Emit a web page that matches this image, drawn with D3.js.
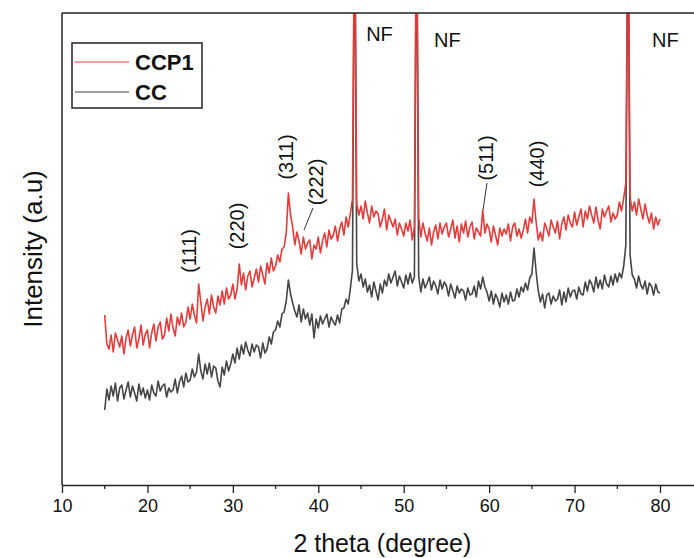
<!DOCTYPE html>
<html>
<head>
<meta charset="utf-8">
<script src="https://cdn.jsdelivr.net/npm/d3@7"></script>
<style>
  html, body { margin: 0; padding: 0; background: #fff; }
  svg { display: block; font-family: 'Liberation Sans', Arial, sans-serif; }
</style>
</head>
<body>
<div id="chart"></div>
<script>
// 2 theta sampling: 15 to 80 degree, every 0.25 degree
const thetaStart = 15;
const thetaStep = 0.25;

// CCP1 intensity (a.u.), four points per degree
const ccp1 = [
  170, 141, 136, 150,  133, 152, 145, 138,  149, 131, 147, 155,  139, 150, 158, 137, // 15-18
  146, 160, 140, 151,  155, 137, 152, 161,  144, 158, 163, 146,  150, 167, 154, 171, // 19-22
  157, 149, 168, 160,  172, 158, 163, 178,  166, 181, 170, 162,  201, 183, 164, 178, // 23-26
  186, 171, 190, 178,  172, 189, 180, 194,  181, 197, 186, 190,  201, 186, 196, 221, // 27-30
  200, 212, 195, 209,  214, 198, 207, 216,  203, 219, 210, 201,  222, 212, 227, 214, // 31-34
  219, 230, 223, 236,  238, 252, 292, 270,  258, 240, 253, 244,  231, 248, 236, 242, // 35-38
  245, 226, 240, 236,  248, 232, 244, 252,  238, 255, 246, 250,  259, 244, 256, 263, // 39-42
  250, 268, 258, 271,  286, 600, 281, 270,  279, 266, 284, 272,  262, 279, 268, 274, // 43-46
  271, 258, 266, 276,  255, 270, 264, 258,  266, 250, 262, 256,  249, 262, 254, 265, // 47-50
  245, 258, 600, 268,  248, 262, 252, 244,  257, 240, 253, 260,  246, 262, 251, 258, // 51-54
  262, 248, 256, 265,  247, 259, 243, 261,  252, 264, 248, 258,  263, 246, 257, 253, // 55-58
  249, 275, 252, 261,  256, 243, 259, 250,  240, 257, 249, 256,  251, 261, 244, 258, // 59-62
  262, 249, 256, 247,  255, 266, 252, 268,  262, 286, 263, 245,  253, 244, 262, 256, // 63-66
  249, 265, 258, 252,  264, 246, 261, 268,  255, 270, 262, 258,  273, 260, 268, 276, // 67-70
  258, 274, 266, 279,  270, 262, 278, 265,  256, 276, 268, 274,  279, 263, 272, 266, // 71-74
  270, 283, 274, 287,  302, 600, 288, 274,  283, 270, 286, 276,  266, 281, 270, 262, // 75-78
  272, 256, 268, 260,  266                                                          // 79-80
];

// CC intensity (a.u.)
const cc = [
   75,  96,  85,  99,   89, 102,  84,  97,  100,  86,  95, 103,   88,  99,  92,  84, // 15-18
  101,  90,  97,  87,   95,  85, 100,  92,   89, 104,  94,  99,  101,  88,  97,  93, // 19-22
   95, 106,  92, 103,  109,  98, 112, 103,  105, 116, 108, 113,  131, 114, 106, 121, // 23-26
  111, 122, 108, 119,  117, 104,  98, 118,  110, 124, 114, 121,  131, 122, 137, 126, // 27-30
  140, 131, 143, 135,  129, 141, 133, 140,  138, 127, 142, 132,  136, 148, 141, 153, // 31-34
  155, 164, 158, 171,  173, 184, 205, 191,  182, 174, 168, 180,  163, 176, 166, 172, // 35-38
  160, 171, 147, 166,  157, 169, 161, 166,  171, 158, 168, 163,  160, 170, 162, 176, // 39-42
  177, 186, 181, 196,  215, 600, 221, 204,  211, 198, 206, 193,  200, 188, 203, 194, // 43-46
  185, 201, 192, 205,  199, 211, 202, 208,  214, 199, 209, 203,  197, 210, 201, 212, // 47-50
  202, 208, 600, 209,  193, 206, 197, 202,  208, 195, 204, 199,  191, 205, 196, 203, // 51-54
  199, 189, 201, 194,  187, 199, 192, 196,  194, 185, 197, 190,  191, 199, 188, 204, // 55-58
  196, 208, 198, 193,  184, 194, 181, 191,  186, 178, 192, 183,  190, 181, 193, 184, // 59-62
  185, 196, 188, 198,  193, 202, 195, 207,  211, 237, 213, 194,  183, 191, 177, 190, // 63-66
  192, 181, 189, 184,  186, 195, 180, 193,  183, 197, 188, 194,  195, 186, 198, 191, // 67-70
  190, 203, 194, 205,  201, 193, 208, 197,  205, 196, 210, 201,  198, 209, 200, 211, // 71-74
  203, 212, 207, 219,  240, 600, 230, 210,  206, 197, 209, 200,  196, 204, 191, 202, // 75-78
  199, 190, 201, 193,  192                                                          // 79-80
];

const seriesNames = ['CCP1', 'CC'];
const seriesColors = ['#e63b3b', '#454545'];

const xTicks = [10, 20, 30, 40, 50, 60, 70, 80];
const xMinorTicks = [15, 25, 35, 45, 55, 65, 75];

// peak labels: text, 2 theta, intensity level
const planeLabels = [
  { text: '(111)', theta: 25.7, level: 234 },
  { text: '(220)', theta: 31.3, level: 259 },
  { text: '(311)', theta: 37.0, level: 328 },
  { text: '(222)', theta: 40.55, level: 303 },
  { text: '(511)', theta: 60.45, level: 327 },
  { text: '(440)', theta: 66.4, level: 321 }
];
const nfLabels = [
  { text: 'NF', theta: 45.6, level: 444 },
  { text: 'NF', theta: 53.55, level: 438 },
  { text: 'NF', theta: 79.06, level: 438 }
];
const leaders = [
  { from: [39.38, 277], to: [38.33, 255] },
  { from: [59.75, 302], to: [59.28, 275] }
];

const width = 694;
const height = 558;
const margin = { left: 62, top: 13, bottom: 485 };

const svg = d3.select('#chart')
  .append('svg')
  .attr('width', width)
  .attr('height', height);

const x = d3.scaleLinear().domain([10, 85]).range([margin.left, margin.left + 75 * 8.543]);
const y = d3.scaleLinear().domain([0, 472]).range([margin.bottom, margin.top]);

svg.append('clipPath').attr('id', 'plot-clip')
  .append('rect')
  .attr('x', x(10)).attr('y', margin.top)
  .attr('width', x(85) - x(10)).attr('height', margin.bottom - margin.top);

const toPoints = vals => vals.map((v, i) => [thetaStart + i * thetaStep, v]);

const line = d3.line()
  .x(d => x(d[0]))
  .y(d => y(d[1]));

const plot = svg.append('g').attr('clip-path', 'url(#plot-clip)');

// dark first so the red pattern sits on top
plot.append('path')
  .datum(toPoints(cc))
  .attr('d', line)
  .attr('fill', 'none')
  .attr('stroke', seriesColors[1])
  .attr('stroke-width', 1.6)
  .attr('stroke-linejoin', 'round');

plot.append('path')
  .datum(toPoints(ccp1))
  .attr('d', line)
  .attr('fill', 'none')
  .attr('stroke', seriesColors[0])
  .attr('stroke-width', 1.6)
  .attr('stroke-linejoin', 'round');

// frame: left and top lines
svg.append('line')
  .attr('x1', x(10)).attr('x2', x(10))
  .attr('y1', margin.top).attr('y2', margin.bottom)
  .attr('stroke', '#222').attr('stroke-width', 1.5);
svg.append('line')
  .attr('x1', x(10)).attr('x2', x(85))
  .attr('y1', margin.top).attr('y2', margin.top)
  .attr('stroke', '#222').attr('stroke-width', 1.5);

// bottom axis
const xAxis = svg.append('g')
  .attr('transform', `translate(0,${margin.bottom})`)
  .call(d3.axisBottom(x).tickValues(xTicks).tickSize(8).tickSizeOuter(0).tickPadding(6));
xAxis.select('.domain').attr('stroke', '#222').attr('stroke-width', 1.5);
xAxis.selectAll('.tick line').attr('stroke', '#222').attr('stroke-width', 1.3);
xAxis.selectAll('.tick text')
  .attr('font-size', 18)
  .attr('font-family', "'Liberation Sans', Arial, sans-serif")
  .attr('fill', '#111');

svg.append('g')
  .attr('transform', `translate(0,${margin.bottom})`)
  .selectAll('line')
  .data(xMinorTicks)
  .enter().append('line')
  .attr('x1', d => x(d)).attr('x2', d => x(d))
  .attr('y1', 0).attr('y2', 4)
  .attr('stroke', '#222').attr('stroke-width', 1.3);

// axis titles
svg.append('text')
  .attr('x', (x(10) + x(85)) / 2)
  .attr('y', 552)
  .attr('text-anchor', 'middle')
  .attr('font-size', 25)
  .attr('fill', '#111')
  .text('2 theta (degree)');

svg.append('text')
  .attr('transform', `translate(42,${(margin.top + margin.bottom) / 2}) rotate(-90)`)
  .attr('text-anchor', 'middle')
  .attr('font-size', 26)
  .attr('fill', '#111')
  .text('Intensity (a.u)');

// peak annotations
svg.append('g')
  .selectAll('text')
  .data(planeLabels)
  .enter().append('text')
  .attr('transform', d => `translate(${x(d.theta)},${y(d.level)}) rotate(-90)`)
  .attr('text-anchor', 'middle')
  .attr('font-size', 20)
  .attr('fill', '#111')
  .text(d => d.text);

svg.append('g')
  .selectAll('text')
  .data(nfLabels)
  .enter().append('text')
  .attr('x', d => x(d.theta))
  .attr('y', d => y(d.level))
  .attr('font-size', 20)
  .attr('fill', '#111')
  .text(d => d.text);

svg.append('g')
  .selectAll('line')
  .data(leaders)
  .enter().append('line')
  .attr('x1', d => x(d.from[0])).attr('y1', d => y(d.from[1]))
  .attr('x2', d => x(d.to[0])).attr('y2', d => y(d.to[1]))
  .attr('stroke', '#333').attr('stroke-width', 1);

// legend
const legend = svg.append('g');
legend.append('rect')
  .attr('x', 72).attr('y', 43)
  .attr('width', 130).attr('height', 65)
  .attr('fill', '#fff')
  .attr('stroke', '#222').attr('stroke-width', 1.5);

seriesNames.forEach((name, i) => {
  const ly = 62 + i * 30;
  legend.append('line')
    .attr('x1', 75).attr('x2', 129)
    .attr('y1', ly).attr('y2', ly)
    .attr('stroke', seriesColors[i]).attr('stroke-width', 1.2);
  legend.append('text')
    .attr('x', 135).attr('y', ly + 7.5)
    .attr('font-size', 22)
    .attr('font-weight', 'bold')
    .attr('fill', '#111')
    .text(name);
});
</script>
</body>
</html>
